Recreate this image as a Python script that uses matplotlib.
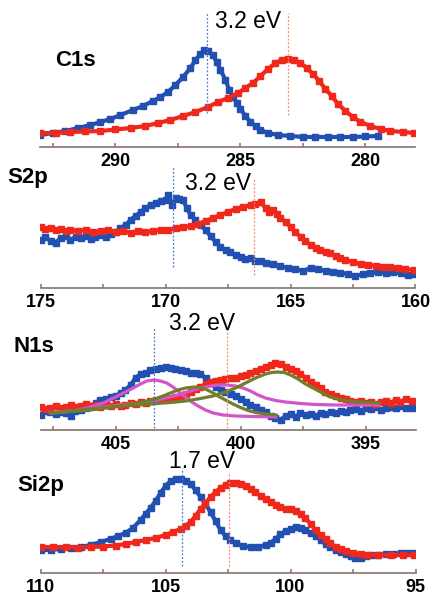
import matplotlib
matplotlib.use("Agg")
import matplotlib.pyplot as plt
import numpy as np

plt.rcParams['font.family'] = ['Liberation Sans', 'DejaVu Sans']

# ---- data: binding energy (eV) and intensity (arb. units) ----
c1s_blue_e = [293.0, 292.5, 292.0, 291.5, 291.0, 290.6, 290.2, 289.8, 289.3, 288.9, 288.5, 288.2,
              287.9, 287.6, 287.3, 287.0, 286.8, 286.6, 286.45, 286.3, 286.1, 285.95, 285.8, 285.6,
              285.45, 285.3, 285.15, 285.0, 284.8, 284.6, 284.4, 284.2, 283.9, 283.5, 283.0, 282.5,
              282.0, 281.5, 281.0, 280.5, 280.0, 279.5]
c1s_blue_i = [12, 14, 16, 19, 22, 25, 28, 32, 37, 41, 46, 50, 55, 62, 70, 79, 87, 93, 97, 96, 92,
              85, 77, 67, 57, 50, 44, 38, 31, 25, 21, 17, 14, 12, 11, 10, 10, 10, 10, 10, 10.5, 11]
c1s_red_e = [293.0, 292.4, 291.8, 291.2, 290.6, 290.0, 289.4, 288.8, 288.3, 287.8, 287.3, 286.8,
             286.3, 285.9, 285.5, 285.1, 284.8, 284.5, 284.2, 283.9, 283.6, 283.35, 283.1, 282.85,
             282.6, 282.35, 282.1, 281.85, 281.6, 281.35, 281.1, 280.8, 280.5, 280.2, 279.8, 279.4,
             279.0, 278.5, 278.05]
c1s_red_i = [14, 14, 15, 15.5, 16, 17.5, 19, 21, 24, 27, 31, 35, 40, 45, 49, 54, 59, 64, 71, 78, 84,
             87, 88, 87, 84, 79, 73, 66, 58, 51, 43, 36, 30, 25, 21, 18, 16, 15, 14]

s2p_blue_e = [175.0, 174.8, 174.6, 174.4, 174.2, 174.0, 173.8, 173.6, 173.4, 173.2, 173.0, 172.8,
              172.6, 172.4, 172.2, 172.0, 171.8, 171.6, 171.4, 171.2, 171.0, 170.8, 170.6, 170.4,
              170.2, 170.0, 169.9, 169.75, 169.6, 169.45, 169.3, 169.15, 169.0, 168.8, 168.6, 168.4,
              168.2, 168.0, 167.8, 167.6, 167.4, 167.2, 167.0, 166.8, 166.6, 166.4, 166.2, 166.0,
              165.7, 165.4, 165.1, 164.8, 164.5, 164.2, 163.9, 163.6, 163.3, 163.0, 162.7, 162.4,
              162.1, 161.8, 161.5, 161.2, 160.9, 160.6, 160.3, 160.05]
s2p_blue_i = [48, 51, 47, 45, 50, 52, 48, 51, 50, 52, 49, 51, 53, 51, 54, 56, 60, 63, 68, 72, 76, 80,
              83, 85, 87, 88, 93, 83, 90, 89, 88, 80, 73, 68, 63, 58, 52, 46, 41, 38, 36, 33, 31, 29,
              30, 27, 27, 25, 24, 22, 20, 19, 17, 20, 19, 17, 16, 15, 14, 12, 14, 15, 16, 15, 16, 15,
              13, 14]
s2p_red_e = [175.0, 174.8, 174.6, 174.4, 174.2, 174.0, 173.8, 173.5, 173.2, 172.9, 172.6, 172.3,
             172.0, 171.7, 171.4, 171.1, 170.8, 170.5, 170.2, 169.9, 169.6, 169.3, 169.0, 168.7,
             168.4, 168.1, 167.8, 167.5, 167.2, 166.9, 166.6, 166.4, 166.2, 166.0, 165.85, 165.7,
             165.55, 165.4, 165.2, 165.0, 164.8, 164.6, 164.4, 164.2, 164.0, 163.8, 163.6, 163.4,
             163.2, 163.0, 162.8, 162.5, 162.2, 161.9, 161.6, 161.3, 161.0, 160.7, 160.4, 160.07]
s2p_red_i = [61, 59, 60, 58, 59, 57, 58, 57, 58, 56, 57, 58, 56, 57, 55, 57, 56, 57, 58, 58, 60, 61,
             62, 64, 67, 70, 73, 76, 79, 81, 83, 84, 86, 80, 76, 78, 74, 70, 66, 61, 56, 51, 47, 43,
             40, 38, 36, 35, 32, 30, 28, 26, 24, 23, 22, 21, 21, 20, 19, 18]

n1s_blue_e = [408.0, 407.8, 407.6, 407.4, 407.2, 407.0, 406.8, 406.6, 406.4, 406.2, 406.0, 405.8,
              405.6, 405.4, 405.2, 405.0, 404.8, 404.6, 404.4, 404.2, 404.0, 403.8, 403.6, 403.4,
              403.2, 403.0, 402.8, 402.6, 402.4, 402.2, 402.0, 401.8, 401.6, 401.4, 401.2, 401.0,
              400.8, 400.6, 400.4, 400.2, 400.0, 399.8, 399.6, 399.4, 399.2, 399.0, 398.8, 398.6,
              398.4, 398.2, 398.0, 397.8, 397.6, 397.4, 397.2, 397.0, 396.8, 396.6, 396.4, 396.2,
              396.0, 395.8, 395.6, 395.4, 395.2, 395.0, 394.8, 394.6, 394.4, 394.2, 394.0, 393.8,
              393.6, 393.4, 393.13]
n1s_blue_i = [15, 19, 18, 16, 18, 17, 14, 19, 20, 22, 24, 27, 30, 31, 33, 34, 37, 40, 45, 52, 56, 57,
              60, 61, 62, 63, 62, 61, 60, 59, 57, 57, 56, 52, 47, 43, 40, 38, 36, 34, 31, 28, 25, 23,
              20, 18, 14, 12, 10, 14, 16, 13, 17, 15, 16, 14, 17, 16, 18, 17, 19, 18, 20, 21, 19, 22,
              21, 23, 20, 22, 23, 22, 24, 22, 22]
n1s_red_e = [408.0, 407.8, 407.6, 407.4, 407.2, 407.0, 406.8, 406.6, 406.4, 406.2, 406.0, 405.8,
             405.6, 405.4, 405.2, 405.0, 404.8, 404.6, 404.4, 404.2, 404.0, 403.8, 403.6, 403.4,
             403.2, 403.0, 402.8, 402.6, 402.4, 402.2, 402.0, 401.8, 401.6, 401.4, 401.2, 401.0,
             400.8, 400.6, 400.4, 400.2, 400.0, 399.8, 399.6, 399.4, 399.2, 399.0, 398.8, 398.6,
             398.4, 398.2, 398.0, 397.8, 397.6, 397.4, 397.2, 397.0, 396.8, 396.6, 396.4, 396.2,
             396.0, 395.8, 395.6, 395.4, 395.2, 395.0, 394.8, 394.6, 394.4, 394.2, 394.0, 393.8,
             393.6, 393.4, 393.13]
n1s_red_i = [23, 21, 22, 24, 22, 23, 25, 23, 24, 26, 24, 25, 23, 25, 24, 26, 24, 25, 27, 26, 28, 27,
             29, 30, 31, 32, 31, 33, 34, 36, 38, 41, 43, 46, 48, 49, 50, 51, 52, 52, 54, 55, 57, 59,
             61, 63, 65, 67, 66, 63, 61, 59, 56, 52, 48, 45, 42, 38, 36, 34, 32, 31, 29, 28, 29, 27,
             28, 26, 28, 29, 27, 30, 28, 31, 29]
# fitted components (two magenta, two olive)
n1s_fit1_e = [407.6, 407.0, 406.5, 406.0, 405.5, 405.0, 404.6, 404.3, 404.0, 403.75, 403.46, 403.2,
              402.95, 402.7, 402.45, 402.2, 401.95, 401.7, 401.4, 401.1, 400.7, 400.2, 399.5, 398.58]
n1s_fit1_i = [17, 18, 20, 23, 27, 33, 38, 42, 46, 49, 50, 49, 47, 43, 38, 33, 28, 24, 20, 17, 15,
              14, 13.5, 13]
n1s_fit2_e = [407.6, 406.5, 405.5, 404.6, 404.0, 403.5, 403.0, 402.5, 402.0, 401.6, 401.2, 400.9,
              400.57, 400.2, 399.9, 399.6, 399.3, 399.0, 398.6, 398.2, 397.6, 397.0, 396.2, 395.3,
              394.46]
n1s_fit2_i = [17, 20, 23, 25.5, 27, 29, 32, 35, 39, 42, 44, 45, 45, 44, 42, 39, 35, 32, 29.5, 28,
              26.5, 25.5, 25, 25, 25]
n1s_fit3_e = [407.6, 406.8, 406.0, 405.4, 404.8, 404.3, 403.8, 403.3, 402.9, 402.5, 402.2, 401.84,
              401.5, 401.2, 400.9, 400.6, 400.3, 400.0, 399.7, 399.4, 399.0, 398.58]
n1s_fit3_i = [17, 18.5, 20, 22, 24, 26, 28.5, 32, 36, 40, 42, 43, 42, 38.5, 34, 30, 26, 22.5, 19.5,
              17.5, 16, 15]
n1s_fit4_e = [407.6, 406.6, 405.6, 404.6, 403.6, 402.8, 402.2, 401.6, 401.1, 400.6, 400.2, 399.8,
              399.4, 399.0, 398.75, 398.51, 398.25, 398.0, 397.7, 397.4, 397.1, 396.8, 396.5, 396.2,
              395.8, 395.3, 394.8, 394.46]
n1s_fit4_i = [17, 19.5, 22, 24.5, 26, 27.5, 29, 31.5, 34, 38, 42, 47, 52, 56, 57.5, 58, 57.5, 55, 51,
              46, 42, 38, 34, 31.5, 29.5, 28, 27.5, 27]

si2p_blue_e = [110.0, 109.6, 109.2, 108.8, 108.4, 108.0, 107.6, 107.2, 106.9, 106.6, 106.3, 106.0,
               105.8, 105.6, 105.4, 105.2, 105.0, 104.8, 104.6, 104.4, 104.2, 104.0, 103.8, 103.6,
               103.4, 103.2, 103.0, 102.8, 102.6, 102.4, 102.2, 101.9, 101.6, 101.3, 101.0, 100.8,
               100.6, 100.4, 100.2, 100.0, 99.8, 99.6, 99.4, 99.2, 99.0, 98.8, 98.6, 98.4, 98.2, 98.0,
               97.8, 97.6, 97.4, 97.2, 97.0, 96.8, 96.5, 96.2, 95.9, 95.6, 95.3, 95.07]
si2p_blue_i = [23, 23, 24, 25, 26, 28, 31, 34, 37, 40, 45, 53, 59, 65, 72, 80, 87, 92, 94, 94, 92, 89,
               83, 76, 69, 61, 52, 43, 37, 33, 30, 27, 26, 26, 28, 30, 34, 39, 42, 44, 46, 45, 43, 40,
               37, 33, 29, 26, 23, 21, 19, 17, 15, 15, 17, 18, 18, 19, 19, 20, 20, 20]
si2p_red_e = [110.0, 109.5, 109.0, 108.5, 108.0, 107.5, 107.0, 106.6, 106.2, 105.8, 105.4, 105.0,
              104.7, 104.4, 104.2, 104.0, 103.8, 103.6, 103.4, 103.2, 103.0, 102.8, 102.6, 102.4,
              102.2, 102.0, 101.8, 101.6, 101.4, 101.2, 101.0, 100.8, 100.6, 100.4, 100.2, 100.0,
              99.8, 99.6, 99.4, 99.2, 99.0, 98.8, 98.6, 98.4, 98.2, 98.0, 97.8, 97.5, 97.2, 96.9,
              96.5, 96.0, 95.5, 95.07]
si2p_red_i = [26, 26, 26, 25.5, 26, 26.5, 27.5, 29, 31, 33, 35, 38, 41, 44, 47, 51, 57, 64, 70, 76, 81,
              85, 88, 90, 90, 89, 87, 84, 81, 77, 74, 71, 68, 66, 64, 64, 62, 59, 55, 49, 43, 38, 34,
              30, 26, 24, 22, 20, 19, 18, 18, 18, 18, 18]

panels = ['C1s', 'S2p', 'N1s', 'Si2p']
xlims = [(293, 278), (175, 160), (408, 393), (110, 95)]
majors = [[290, 285, 280], [175, 170, 165, 160], [405, 400, 395], [110, 105, 100, 95]]
minors = [[292.5, 287.5, 282.5], [172.5, 167.5, 162.5], [407.5, 402.5, 397.5], [107.5, 102.5, 97.5]]
peak_lines = [(286.35, 283.1), (169.7, 166.45), (403.45, 400.55), (104.35, 102.45)]
shifts = ['3.2 eV', '3.2 eV', '3.2 eV', '1.7 eV']

W, Hfig = 431, 596
blue = '#2150b0'
red = '#f0281c'
magenta = '#d455c8'
olive = '#6f7f2c'

fig = plt.figure(figsize=(W / 100, Hfig / 100), dpi=100)

axis_y = [147, 288, 430, 573]
H = 140
x0, x1 = 40.5, 415.5

data = [
    [(c1s_blue_e, c1s_blue_i, blue), (c1s_red_e, c1s_red_i, red)],
    [(s2p_blue_e, s2p_blue_i, blue), (s2p_red_e, s2p_red_i, red)],
    [(n1s_blue_e, n1s_blue_i, blue), (n1s_red_e, n1s_red_i, red)],
    [(si2p_blue_e, si2p_blue_i, blue), (si2p_red_e, si2p_red_i, red)],
]
vlines = [((134, 34), (134, 32)), ((121, 21), (110, 13)), ((103, 2), (102, 2)), ((105, 7), (101, 7))]

for k in range(4):
    ax = fig.add_axes([x0 / W, (Hfig - axis_y[k]) / Hfig, (x1 - x0) / W, H / Hfig])
    ax.patch.set_alpha(0)
    for e, i, c in data[k]:
        ax.plot(e, i, color=c, lw=3.0, marker='s', ms=4.0, mec=c, mfc=c, zorder=2)
    if k == 2:
        for e, i, c in [(n1s_fit1_e, n1s_fit1_i, magenta), (n1s_fit2_e, n1s_fit2_i, magenta),
                        (n1s_fit3_e, n1s_fit3_i, olive), (n1s_fit4_e, n1s_fit4_i, olive)]:
            ax.plot(e, i, color=c, lw=2.3, zorder=3)
    (bt, bb), (rt, rb) = vlines[k]
    pb, pr = peak_lines[k]
    ax.plot([pb, pb], [bb, bt], color='#4a78d8', lw=0.9, ls=(0, (1.5, 1.5)), zorder=4)
    ax.plot([pr, pr], [rb, rt], color='#f58a70', lw=0.9, ls=(0, (1.5, 1.5)), zorder=4)

    ax.set_xlim(xlims[k])
    ax.set_ylim(0, H)
    ax.set_yticks([])
    for s in ['top', 'left', 'right']:
        ax.spines[s].set_visible(False)
    ax.spines['bottom'].set_color('#85736a')
    ax.spines['bottom'].set_linewidth(1.2)
    ax.set_xticks(majors[k])
    ax.set_xticks(minors[k], minor=True)
    ax.tick_params(axis='x', which='both', direction='in', length=3, width=1.1,
                   color='#85736a', pad=4)
    for lab in ax.get_xticklabels():
        lab.set_fontweight('bold')
        lab.set_fontsize(13)

# panel labels and shift annotations (pixel positions)
labels_pos = [(75, 60), (28, 177), (34, 346), (41, 486)]
shift_pos = [(248, 22), (218, 184), (202, 323), (202, 461)]
for k in range(4):
    lx, ly = labels_pos[k]
    fig.text(lx / W, 1 - ly / Hfig, panels[k], ha='center', va='center',
             fontsize=16, fontweight='bold')
    sx, sy = shift_pos[k]
    fig.text(sx / W, 1 - sy / Hfig, shifts[k], ha='center', va='center', fontsize=16.5)

fig.savefig('out.png', dpi=100)
